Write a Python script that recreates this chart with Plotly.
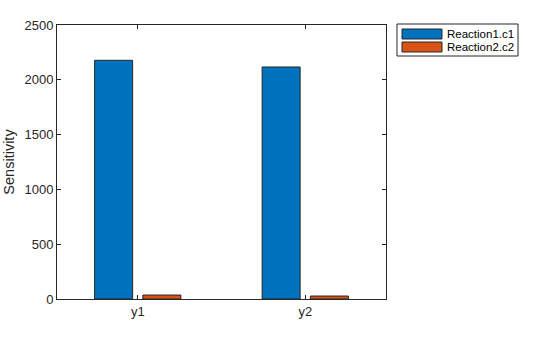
import plotly.graph_objects as go

categories = ["y1", "y2"]
reaction1_c1 = [2178, 2117]
reaction2_c2 = [36, 27]
y_ticks = [0, 500, 1000, 1500, 2000, 2500]
series_names = ["Reaction1.c1", "Reaction2.c2"]
series_colors = ["#0072BD", "#D95319"]

fig = go.Figure()
for name, vals, col in zip(series_names, [reaction1_c1, reaction2_c2], series_colors):
    fig.add_trace(go.Bar(x=categories, y=vals, name=name, showlegend=False,
                         marker=dict(color=col, line=dict(color="#262626", width=1))))

font_family = "Liberation Sans, Arial, sans-serif"
axis_common = dict(showline=True, linecolor="#262626", linewidth=1, mirror="ticks",
                   ticks="inside", ticklen=4, tickcolor="#262626", showgrid=False,
                   zeroline=False, automargin=False,
                   tickfont=dict(family=font_family, size=13, color="#262626"))

# plot area in pixels
L, R, T, B = 57, 386, 25, 299
W, H = R - L, B - T
px = lambda x: (x - L) / W
py = lambda y: (B - y) / H

# MATLAB-style legend box
shapes = [dict(type="rect", xref="paper", yref="paper",
               x0=px(397), x1=px(518), y0=py(56), y1=py(24),
               line=dict(color="#262626", width=1), fillcolor="white")]
annotations = []
for i, (name, col) in enumerate(zip(series_names, series_colors)):
    top = 29 + 13 * i
    shapes.append(dict(type="rect", xref="paper", yref="paper",
                       x0=px(402), x1=px(442), y0=py(top + 10), y1=py(top),
                       line=dict(color="#262626", width=1), fillcolor=col))
    annotations.append(dict(text=name, xref="paper", yref="paper",
                            x=px(445), y=py(top + 5), xanchor="left", yanchor="middle",
                            showarrow=False,
                            font=dict(family=font_family, size=11.5, color="#000000")))

fig.update_layout(
    width=560, height=337,
    margin=dict(l=L, r=560 - R, t=T, b=337 - B),
    paper_bgcolor="white", plot_bgcolor="white",
    barmode="group", bargap=0.424, bargroupgap=0.212,
    font=dict(family=font_family, size=13, color="#262626"),
    xaxis=dict(**axis_common, range=[-0.482, 1.482]),
    yaxis=dict(**axis_common, range=[0, 2500], tickvals=y_ticks,
               title=dict(text="Sensitivity", standoff=6,
                          font=dict(family=font_family, size=14.5, color="#262626"))),
    shapes=shapes,
    annotations=annotations,
    showlegend=False,
)

fig.write_html("out.html")
